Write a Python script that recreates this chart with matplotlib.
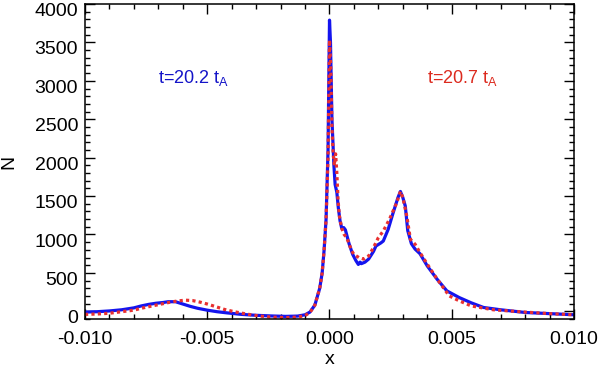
import matplotlib
matplotlib.use('Agg')
import matplotlib.pyplot as plt
import matplotlib.transforms as mtransforms
from matplotlib.ticker import MultipleLocator, FormatStrFormatter

plt.rcParams['font.family'] = ['Liberation Sans', 'DejaVu Sans']
plt.rcParams['mathtext.fontset'] = 'custom'
plt.rcParams['mathtext.rm'] = 'Liberation Sans'
plt.rcParams['mathtext.it'] = 'Liberation Sans'

# blue curve, t = 20.2 tA
x_blue = [-0.0100, -0.0095, -0.0090, -0.0085, -0.0080, -0.0077, -0.0074, -0.0071,
          -0.0068, -0.0066, -0.0063, -0.0060, -0.0057, -0.0054, -0.0050, -0.0046,
          -0.0042, -0.0036, -0.0030, -0.0024, -0.0018, -0.0013, -0.0010, -0.0008,
          -0.0006, -0.0004, -0.0003, -0.00022, -0.00014, -0.00006, 0.0, 0.00004,
          0.0001, 0.00018, 0.00023, 0.0003, 0.00036, 0.00043, 0.0005, 0.00058,
          0.00065, 0.0008, 0.00095, 0.00108, 0.00118, 0.00125, 0.0013, 0.00145,
          0.0016, 0.0018, 0.0019, 0.0021, 0.0022, 0.0024, 0.0026, 0.0028, 0.0029,
          0.0030, 0.0031, 0.0032, 0.00335, 0.0035, 0.0037, 0.0040, 0.0044, 0.0048,
          0.0053, 0.0058, 0.0063, 0.0070, 0.0080, 0.0090, 0.0100]
n_blue = [-10, -5, 5, 20, 45, 70, 90, 105,
          115, 125, 125, 95, 65, 40, 15, -5,
          -20, -40, -52, -60, -66, -62, -45, -10,
          80, 300, 500, 800, 1200, 2100, 3790, 3500,
          2500, 1900, 1650, 1550, 1350, 1180, 1080, 1090,
          1060, 880, 740, 660, 610, 640, 620, 640,
          680, 780, 850, 890, 915, 1067, 1280, 1480, 1560,
          1480, 1370, 1050, 880, 810, 750, 590, 418, 266,
          180, 110, 50, 20, -15, -30, -45]

# red curve, t = 20.7 tA
x_red = [-0.0100, -0.0095, -0.0090, -0.0085, -0.0080, -0.0077, -0.0074, -0.0071,
         -0.0068, -0.0065, -0.0062, -0.0059, -0.0056, -0.0053, -0.0050, -0.0047,
         -0.0043, -0.0039, -0.0034, -0.0029, -0.0024, -0.0018, -0.0013, -0.0010,
         -0.0008, -0.0006, -0.0004, -0.0003, -0.00022, -0.00014, -0.00006, 0.0,
         0.00005, 0.0001, 0.00015, 0.0002, 0.00025, 0.0003, 0.00035, 0.0004,
         0.0005, 0.0006, 0.0007, 0.0008, 0.0009, 0.0010, 0.0012, 0.0014, 0.0016,
         0.0018, 0.0020, 0.0022, 0.00245, 0.00275, 0.0029, 0.0030, 0.00316,
         0.00331, 0.0035, 0.0037, 0.0040, 0.0044, 0.0049, 0.0053, 0.0058,
         0.0067, 0.0080, 0.0090, 0.0100]
n_red = [-40, -35, -25, -5, 15, 40, 60, 80,
         100, 120, 135, 145, 140, 120, 95, 65,
         25, -5, -35, -60, -75, -82, -75, -55,
         -15, 80, 300, 500, 800, 1200, 2000, 3530,
         3200, 2400, 2050, 1900, 2050, 1800, 1450, 1250,
         1080, 1000, 960, 880, 790, 740, 700, 680, 720,
         830, 960, 1045, 1197, 1414, 1560, 1480, 1240,
         937, 873, 765, 613, 420, 200, 137, 70,
         20, -10, -30, -45]

label_blue = r't=20.2 t$_{\mathrm{A}}$'
label_red = r't=20.7 t$_{\mathrm{A}}$'

fig = plt.figure(figsize=(6, 3.7), dpi=100)
ax = fig.add_axes([85 / 600, 1 - 319 / 370, 489 / 600, 315 / 370])

ax.plot(x_blue, n_blue, color='#1414ee', lw=2.3, solid_joinstyle='round')
ax.plot(x_red, n_red, color='#e83030', lw=2.3, linestyle=(0, (1, 1)))

ax.set_xlim(-0.010, 0.010)
ax.set_ylim(-100, 4000)

ax.xaxis.set_major_locator(MultipleLocator(0.005))
ax.xaxis.set_minor_locator(MultipleLocator(0.001))
ax.xaxis.set_major_formatter(FormatStrFormatter('%.3f'))
ax.yaxis.set_major_locator(MultipleLocator(500))
ax.yaxis.set_minor_locator(MultipleLocator(100))

ax.tick_params(which='both', direction='in', top=True, right=True, labelsize=14, width=1)
ax.tick_params(which='major', length=7)
ax.tick_params(which='minor', length=3.5)
ax.tick_params(axis='x', pad=9)
ax.tick_params(axis='y', pad=5)
for s in ax.spines.values():
    s.set_linewidth(1.1)

# y labels sit a little below their ticks, as in the original
shift = mtransforms.ScaledTranslation(0, -4 / 72, fig.dpi_scale_trans)
for lab in ax.get_yticklabels():
    lab.set_transform(lab.get_transform() + shift)

ax.set_xlabel('x', fontsize=14, labelpad=2)
ax.set_ylabel('N', fontsize=14, labelpad=12)

ax.text(-0.0070, 3040, label_blue, color='#1414c8', fontsize=13, va='center')
ax.text(0.0040, 3040, label_red, color='#dc2a1e', fontsize=13, va='center')

fig.savefig('out.png', dpi=100)
